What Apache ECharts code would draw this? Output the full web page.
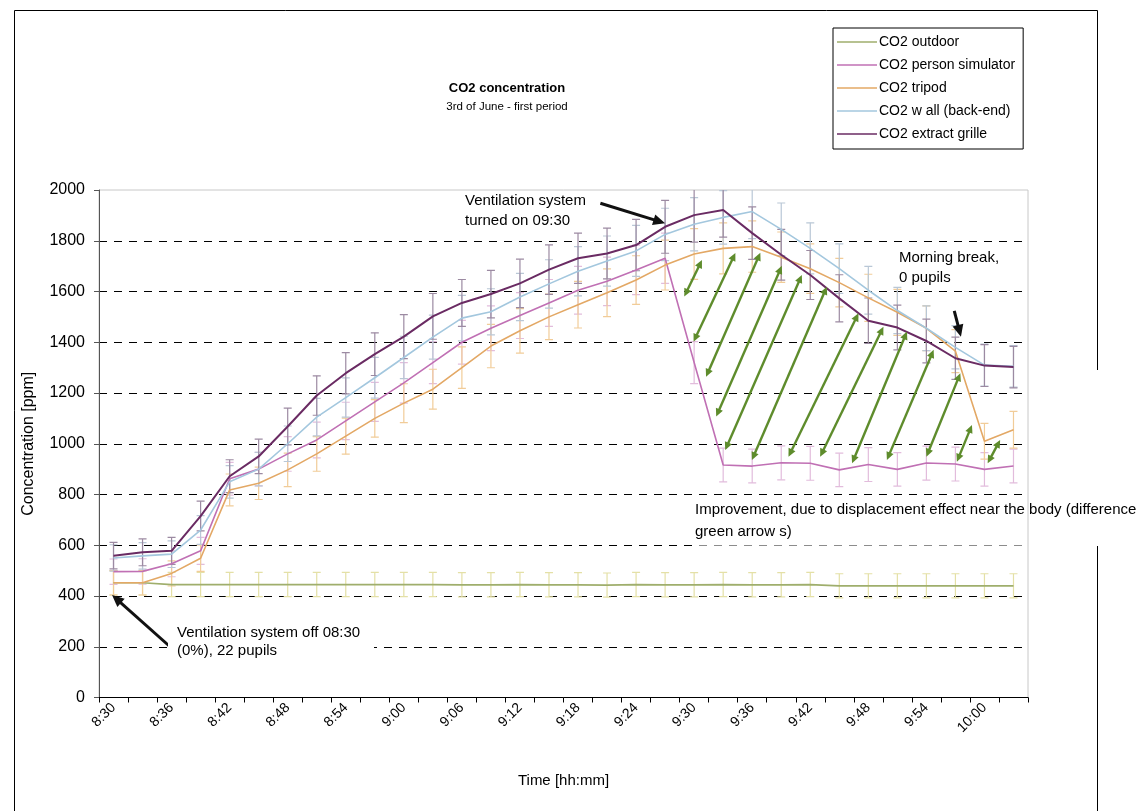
<!DOCTYPE html>
<html>
<head>
<meta charset="utf-8">
<script src="https://cdn.jsdelivr.net/npm/echarts@6/dist/echarts.min.js"></script>
<style>
html,body{margin:0;padding:0;background:#fff;}
#chart{width:1147px;height:811px;}
</style>
</head>
<body>
<div id="chart"></div>
<script>
// ---- data ----
const categories = ['8:30','8:33','8:36','8:39','8:42','8:45','8:48','8:51','8:54','8:57',
  '9:00','9:03','9:06','9:09','9:12','9:15','9:18','9:21','9:24','9:27',
  '9:30','9:33','9:36','9:39','9:42','9:45','9:48','9:51','9:54','9:57','10:00','10:03'];
const yTicks = [0,200,400,600,800,1000,1200,1400,1600,1800,2000];

const co2Outdoor = [452,452,445,445,445,445,445,445,445,445,445,445,444,444,445,444,
  444,443,445,444,444,445,444,444,445,440,440,440,440,440,440,440];
const co2PersonSimulator = [496,497,527,578,862,900,960,1015,1090,1165,1240,1320,1400,1455,1505,1555,
  1605,1640,1685,1731,1320,916,912,925,923,897,918,899,924,920,899,912];
const co2Tripod = [452,452,489,549,818,844,897,960,1030,1100,1160,1215,1300,1385,1445,1500,
  1548,1595,1645,1704,1748,1770,1777,1735,1690,1635,1575,1518,1455,1365,1010,1055];
const co2Wall = [550,558,565,660,850,900,1000,1105,1182,1260,1340,1420,1495,1520,1578,1630,
  1680,1720,1760,1825,1865,1892,1915,1845,1770,1690,1605,1525,1455,1380,1310,1305];
const co2Extract = [559,572,578,715,872,950,1068,1190,1278,1353,1422,1502,1555,1590,1632,1686,
  1731,1750,1783,1855,1901,1921,1830,1745,1665,1573,1485,1458,1405,1337,1308,1302];

const seriesNames = ['CO2 outdoor','CO2 person simulator','CO2 tripod','CO2 w all (back-end)','CO2 extract grille'];
// sensor accuracy used for the error bars: +/- (abs ppm + rel * reading)
const errAbs = 30;
const errRel = 0.04;

// annotation arrows in (category index, ppm) units: [x1, v1, x2, v2]
const greenArrows = [
  [19.66,1580,20.27,1724],[19.98,1402,21.42,1752],[20.41,1264,22.28,1753],
  [20.76,1107,23.02,1701],[21.07,975,23.71,1665],[21.99,936,24.57,1619],
  [23.25,949,25.66,1514],[24.34,949,26.52,1461],[25.44,923,27.33,1442],
  [26.64,936,28.25,1370],[28.0,949,29.17,1278],[29.05,929,29.57,1074],
  [30.11,923,30.54,1015]
];
const blackArrows = [
  [1.95,200,-0.05,404],[16.77,1948,19.0,1869],[28.96,1524,29.19,1422]
];

// ---- styling ----
const lineColors = ['#9fae6c','#c070b4','#e3a865','#a3c7de','#6a2b63'];
const barColors = ['#e4e0a6','#e2bcdc','#f1cc98','#b9c7d6','#9c8aa2'];
const lineWidths = [1.6,1.6,1.6,1.6,2];
const dataSets = [co2Outdoor, co2PersonSimulator, co2Tripod, co2Wall, co2Extract];
const FONT = '"Liberation Sans", Arial, sans-serif';

const chart = echarts.init(document.getElementById('chart'), null, {renderer:'canvas'});

const series = [];
dataSets.forEach((d, k) => {
  series.push({
    name: seriesNames[k] + ' err',
    type: 'custom',
    xAxisIndex: 0, yAxisIndex: 0,
    clip: true,
    z: 1,
    silent: true,
    data: d.map((v, i) => [i, v]),
    renderItem: function (params, api) {
      const x = api.value(0), v = api.value(1);
      const e = errAbs + errRel * v;
      const top = api.coord([x, v + e]);
      const bot = api.coord([x, v - e]);
      const c = barColors[k];
      const w = 4;
      return {type:'group', children:[
        {type:'line', shape:{x1:top[0],y1:top[1],x2:bot[0],y2:bot[1]}, style:{stroke:c,lineWidth:1.2}},
        {type:'line', shape:{x1:top[0]-w,y1:top[1],x2:top[0]+w,y2:top[1]}, style:{stroke:c,lineWidth:1.2}},
        {type:'line', shape:{x1:bot[0]-w,y1:bot[1],x2:bot[0]+w,y2:bot[1]}, style:{stroke:c,lineWidth:1.2}}
      ]};
    }
  });
});
dataSets.forEach((d, k) => {
  series.push({
    name: seriesNames[k],
    type: 'line',
    xAxisIndex: 0, yAxisIndex: 0,
    data: d,
    symbol: 'none',
    z: 2,
    lineStyle: {color: lineColors[k], width: lineWidths[k]},
    itemStyle: {color: lineColors[k]}
  });
});

function arrowHead(px, py, fromx, fromy, len, half, color) {
  const dx = px - fromx, dy = py - fromy;
  const L = Math.sqrt(dx*dx + dy*dy) || 1;
  const ux = dx / L, uy = dy / L;
  const bx = px - ux * len, by = py - uy * len;
  return {type:'polygon', shape:{points:[[px,py],[bx - uy*half, by + ux*half],[bx + uy*half, by - ux*half]]},
    style:{fill:color}};
}
function shorten(p, q, d) {
  const dx = q[0]-p[0], dy = q[1]-p[1];
  const L = Math.sqrt(dx*dx+dy*dy) || 1;
  return [p[0] + dx/L*d, p[1] + dy/L*d];
}

series.push({
  name: 'green arrows',
  type: 'custom',
  xAxisIndex: 1, yAxisIndex: 0,
  z: 5, silent: true,
  data: greenArrows,
  renderItem: function (params, api) {
    const p1 = api.coord([api.value(0), api.value(1)]);
    const p2 = api.coord([api.value(2), api.value(3)]);
    const col = '#5e8c2c';
    const a = shorten(p1, p2, 5), b = shorten(p2, p1, 5);
    return {type:'group', children:[
      {type:'line', shape:{x1:a[0],y1:a[1],x2:b[0],y2:b[1]}, style:{stroke:col,lineWidth:2.4}},
      arrowHead(p1[0],p1[1],p2[0],p2[1],8,3.8,col),
      arrowHead(p2[0],p2[1],p1[0],p1[1],8,3.8,col)
    ]};
  }
});
series.push({
  name: 'black arrows',
  type: 'custom',
  xAxisIndex: 1, yAxisIndex: 0,
  z: 6, silent: true, clip: false,
  data: blackArrows,
  renderItem: function (params, api) {
    const p1 = api.coord([api.value(0), api.value(1)]);
    const p2 = api.coord([api.value(2), api.value(3)]);
    const b = shorten(p2, p1, 8);
    return {type:'group', children:[
      {type:'line', shape:{x1:p1[0],y1:p1[1],x2:b[0],y2:b[1]}, style:{stroke:'#111',lineWidth:3}},
      arrowHead(p2[0],p2[1],p1[0],p1[1],12,5.5,'#111')
    ]};
  }
});

function txt(x, y, s, opts) {
  return Object.assign({type:'text', x:x, y:y, silent:true, z:20,
    style:{text:s, fill:'#000', font:'15px ' + FONT, textAlign:'left', textVerticalAlign:'middle'}}, opts || {});
}

const option = {
  backgroundColor: '#fff',
  animation: false,
  textStyle: {fontFamily: FONT},
  grid: {left: 99, right: 119, top: 190, bottom: 113.5, show: true, borderColor: '#c8c8c8', borderWidth: 1, backgroundColor: 'transparent'},
  legend: {
    orient: 'vertical', left: 833, top: 28,
    data: seriesNames,
    icon: 'rect', itemWidth: 40, itemHeight: 1.5, itemGap: 9,
    padding: [7, 8, 8, 4],
    borderColor: '#000', borderWidth: 1, backgroundColor: '#fff',
    textStyle: {fontSize: 14, color: '#000', fontFamily: FONT, padding: [0,0,0,-3]},
    selectedMode: false
  },
  xAxis: [{
    type: 'category', data: categories, boundaryGap: true,
    name: 'Time [hh:mm]', nameLocation: 'middle', nameGap: 76,
    nameTextStyle: {fontSize: 15, color: '#000', fontFamily: FONT},
    axisLine: {lineStyle: {color: '#000', width: 1}},
    axisTick: {show: true, interval: 0, length: 5, lineStyle: {color: '#000'}},
    axisLabel: {interval: 1, rotate: 45, fontSize: 14, color: '#000', margin: 8, fontFamily: FONT},
    splitLine: {show: false}
  }, {
    type: 'value', min: -0.5, max: 31.5, show: false,
    splitLine: {show: false}
  }],
  yAxis: {
    type: 'value', min: yTicks[0], max: yTicks[yTicks.length-1], interval: yTicks[1]-yTicks[0],
    name: 'Concentration [ppm]', nameLocation: 'middle', nameGap: 62,
    nameTextStyle: {fontSize: 16, color: '#000', fontFamily: FONT},
    axisLine: {show: true, onZero: false, lineStyle: {color: '#555', width: 1}},
    axisTick: {show: true, length: 5, lineStyle: {color: '#555'}},
    axisLabel: {fontSize: 16, color: '#000', margin: 14, fontFamily: FONT, formatter: v => String(v)},
    splitLine: {show: true, showMinLine: false, showMaxLine: false, lineStyle: {color: '#000', type: [8, 7], width: 1}}
  },
  graphic: [
    // outer frame
    {type:'line', shape:{x1:14.5,y1:10.5,x2:1097.5,y2:10.5}, style:{stroke:'#000',lineWidth:1}, silent:true},
    {type:'line', shape:{x1:14.5,y1:10.5,x2:14.5,y2:811}, style:{stroke:'#000',lineWidth:1}, silent:true},
    {type:'line', shape:{x1:1097.5,y1:10.5,x2:1097.5,y2:370}, style:{stroke:'#000',lineWidth:1}, silent:true},
    {type:'line', shape:{x1:1097.5,y1:546,x2:1097.5,y2:811}, style:{stroke:'#000',lineWidth:1}, silent:true},
    // text boxes covering the grid behind annotations
    {type:'rect', shape:{x:168, y:621, width:206, height:40}, style:{fill:'#fff'}, z:10, silent:true},
    {type:'rect', shape:{x:692, y:498, width:330, height:50}, style:{fill:'rgba(255,255,255,0.55)'}, z:10, silent:true},
    // titles
    txt(507, 88, 'CO2 concentration', {style:{text:'CO2 concentration', fill:'#000', font:'bold 13px ' + FONT, textAlign:'center', textVerticalAlign:'middle'}}),
    txt(507, 107, '3rd of June - first period', {style:{text:'3rd of June - first period', fill:'#000', font:'11.5px ' + FONT, textAlign:'center', textVerticalAlign:'middle'}}),
    // annotations
    txt(177, 633, 'Ventilation system off 08:30'),
    txt(177, 651, '(0%), 22 pupils'),
    txt(465, 201, 'Ventilation system'),
    txt(465, 221, 'turned on 09:30'),
    txt(899, 258, 'Morning break,'),
    txt(899, 278, '0 pupils'),
    txt(695, 510, 'Improvement, due to displacement effect near the body (difference'),
    txt(695, 532, 'green arrow s)')
  ],
  series: series
};
chart.setOption(option);
</script>
</body>
</html>
